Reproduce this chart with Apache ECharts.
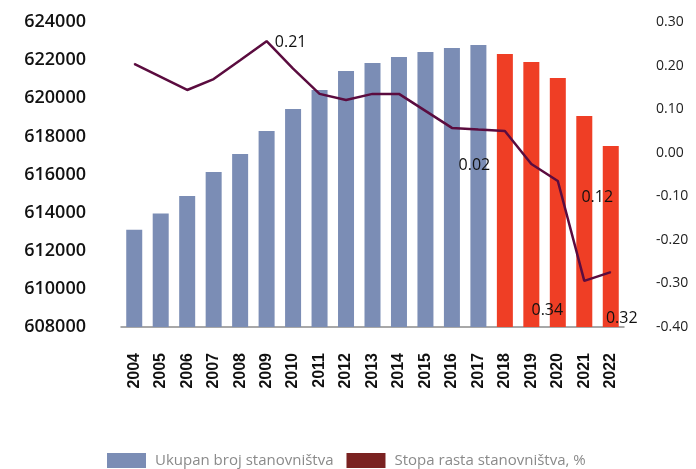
<!DOCTYPE html>
<html lang="hr">
<head>
    <meta charset="UTF-8">
    <title>Stanovništvo</title>
    <script src="https://cdn.jsdelivr.net/npm/echarts@6/dist/echarts.min.js"></script>
    <style>
        html, body { margin: 0; height: 100%; background: #fff; }
        #main { width: 696px; height: 469px; }
    </style>
</head>
<body>
<div id="main"></div>
<script>
    // godine
    var years = ['2004', '2005', '2006', '2007', '2008', '2009', '2010', '2011', '2012', '2013',
        '2014', '2015', '2016', '2017', '2018', '2019', '2020', '2021', '2022'];
    // ukupan broj stanovnika
    var population = [613100, 613950, 614870, 616130, 617080, 618280, 619440, 620430, 621430, 621850,
        622160, 622430, 622640, 622790, 622320, 621900, 621060, 619070, 617500];
    // stopa rasta, %
    var growthRate = [0.204, 0.174, 0.144, 0.169, 0.212, 0.256, 0.193, 0.135, 0.121, 0.135,
        0.135, 0.096, 0.057, 0.053, 0.050, -0.026, -0.065, -0.294, -0.274];
    // natpisi uz liniju (kako stoje na slici)
    var growthLabels = ['', '', '', '', '', '0.21', '', '', '', '',
        '', '', '', '0.02', '', '0.34', '', '0.12', '0.32'];
    var firstEstimateIndex = 14;

    var blue = '#7b8db5';
    var red = '#ef3e25';
    var lineColor = '#5b0c3f';
    var legendRed = '#7a2221';
    var labelFont = '"Open Sans", "Noto Sans", sans-serif';

    // pomaci natpisa u pikselima
    var labelOffsets = {5: [24, 1], 13: [-4, 36], 15: [16, 146], 17: [13, -83], 18: [11, 46]};

    var barData = population.map(function (v, i) {
        return {value: v, itemStyle: {color: i >= firstEstimateIndex ? red : blue}};
    });
    var lineData = growthRate.map(function (v, i) {
        var item = {value: v};
        if (growthLabels[i]) {
            item.label = {
                show: true,
                formatter: growthLabels[i],
                position: 'inside',
                offset: labelOffsets[i] || [0, 0]
            };
        }
        return item;
    });

    var myChart = echarts.init(document.getElementById('main'));
    var option = {
        animation: false,
        grid: {left: 121, right: 72, top: 22, bottom: 142},
        legend: {
            left: 107,
            top: 453,
            padding: 0,
            itemWidth: 39,
            itemHeight: 15,
            itemGap: 13,
            textStyle: {color: '#8a8a8a', fontSize: 15, fontFamily: labelFont, padding: [0, 0, 0, 4]},
            data: [
                {name: 'Ukupan broj stanovništva', icon: 'rect', itemStyle: {color: blue}},
                {name: 'Stopa rasta stanovništva, %', icon: 'rect', itemStyle: {color: legendRed}}
            ]
        },
        xAxis: {
            type: 'category',
            data: years,
            axisTick: {show: false},
            axisLine: {onZero: false, lineStyle: {color: '#8c8c8c', width: 1.5}},
            axisLabel: {
                rotate: 90,
                margin: 26,
                color: '#111',
                fontSize: 16,
                fontWeight: 'bold',
                fontFamily: '"Liberation Sans", Arial, sans-serif'
            }
        },
        yAxis: [
            {
                type: 'value',
                min: 608000,
                max: 624000,
                interval: 2000,
                splitLine: {show: false},
                axisLine: {show: false},
                axisTick: {show: false},
                axisLabel: {
                    margin: 35,
                    color: '#111',
                    fontSize: 18,
                    fontWeight: 600,
                    fontFamily: labelFont,
                    formatter: function (v) { return String(v); }
                }
            },
            {
                type: 'value',
                min: -0.4,
                max: 0.3,
                interval: 0.1,
                splitLine: {show: false},
                axisLine: {show: false},
                axisTick: {show: false},
                axisLabel: {
                    margin: 32,
                    color: '#222',
                    fontSize: 14,
                    fontFamily: labelFont,
                    formatter: function (v) { return v.toFixed(2); }
                }
            }
        ],
        series: [
            {
                name: 'Ukupan broj stanovništva',
                type: 'bar',
                barWidth: 16,
                data: barData
            },
            {
                name: 'Stopa rasta stanovništva, %',
                type: 'line',
                yAxisIndex: 1,
                symbol: 'circle',
                symbolSize: 1,
                itemStyle: {color: lineColor},
                lineStyle: {color: lineColor, width: 2.5},
                label: {color: '#111', fontSize: 16, fontFamily: labelFont},
                data: lineData
            }
        ]
    };
    myChart.setOption(option);
</script>
</body>
</html>
